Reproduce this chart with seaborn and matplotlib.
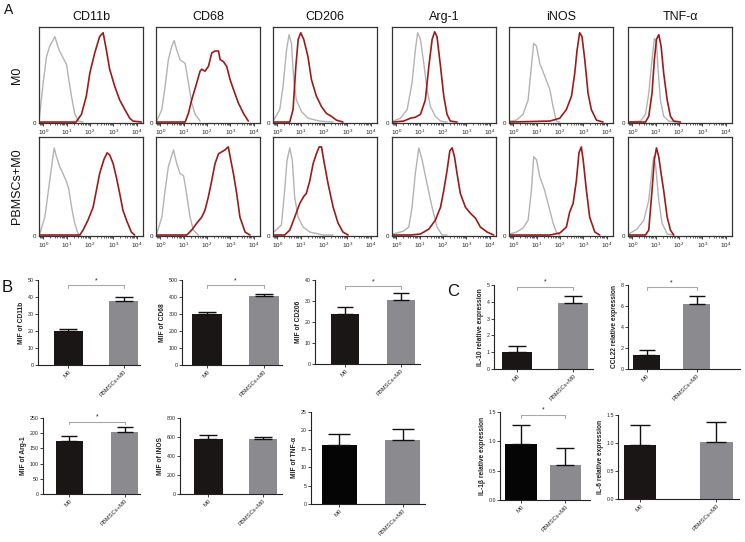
import numpy as np
import pandas as pd
import matplotlib
matplotlib.use("Agg")
import matplotlib.pyplot as plt
import matplotlib.ticker as mticker
import seaborn as sns

# ---------------- data ----------------
markers = ["CD11b", "CD68", "CD206", "Arg-1", "iNOS", "TNF-α"]
conditions = ["M0", "PBMSCs+M0"]

# Flow histograms: x = log10 fluorescence, y = fraction of plot height
cd11b_m0_iso_x = [-0.19, -0.01, 0.13, 0.27, 0.49, 0.67, 0.84, 0.99, 1.09, 1.2, 1.34, 1.49, 1.7]
cd11b_m0_iso_y = [0.02, 0.42, 0.69, 0.80, 0.90, 0.76, 0.68, 0.61, 0.45, 0.28, 0.10, 0.02, 0.01]
cd11b_m0_pos_x = [-0.19, 1.4, 1.63, 1.84, 1.99, 2.2, 2.41, 2.56, 2.7, 2.84, 3.06, 3.27, 3.49, 3.7, 3.84, 4.2]
cd11b_m0_pos_y = [0.01, 0.01, 0.09, 0.28, 0.52, 0.73, 0.90, 0.94, 0.76, 0.56, 0.38, 0.24, 0.14, 0.05, 0.02, 0.01]

cd68_m0_iso_x = [-0.16, 0.06, 0.2, 0.34, 0.49, 0.59, 0.7, 0.84, 1.06, 1.2, 1.34, 1.49, 1.7]
cd68_m0_iso_y = [0.02, 0.14, 0.38, 0.66, 0.80, 0.86, 0.76, 0.66, 0.62, 0.42, 0.21, 0.09, 0.02]
cd68_m0_pos_x = [-0.16, 1.06, 1.2, 1.34, 1.56, 1.7, 1.77, 1.91, 2.06, 2.2, 2.34, 2.49, 2.56, 2.7, 2.84, 2.99, 3.13, 3.34, 3.56, 3.77]
cd68_m0_pos_y = [0.01, 0.01, 0.10, 0.24, 0.42, 0.54, 0.56, 0.54, 0.59, 0.73, 0.75, 0.75, 0.66, 0.64, 0.59, 0.45, 0.35, 0.21, 0.10, 0.02]

cd206_m0_iso_x = [-0.16, 0.1, 0.24, 0.39, 0.5, 0.6, 0.7, 0.81, 1.03, 1.31, 1.81, 2.39]
cd206_m0_iso_y = [0.03, 0.14, 0.38, 0.76, 0.92, 0.83, 0.45, 0.24, 0.12, 0.05, 0.02, 0.01]
cd206_m0_pos_x = [-0.16, 0.53, 0.67, 0.79, 0.89, 1.0, 1.13, 1.31, 1.46, 1.67, 1.89, 2.1, 2.31, 2.53, 2.81]
cd206_m0_pos_y = [0.01, 0.01, 0.14, 0.59, 0.87, 0.94, 0.87, 0.69, 0.45, 0.28, 0.17, 0.10, 0.07, 0.03, 0.01]

arg1_m0_iso_x = [-0.14, 0.17, 0.46, 0.67, 0.81, 0.91, 1.03, 1.17, 1.31, 1.46, 1.67, 1.89, 2.17]
arg1_m0_iso_y = [0.02, 0.05, 0.14, 0.42, 0.76, 0.94, 0.87, 0.63, 0.35, 0.17, 0.07, 0.02, 0.01]
arg1_m0_pos_x = [-0.14, 0.31, 0.6, 0.81, 1.03, 1.24, 1.39, 1.53, 1.64, 1.74, 1.89, 2.03, 2.17, 2.31, 2.6]
arg1_m0_pos_y = [0.01, 0.02, 0.05, 0.06, 0.09, 0.24, 0.59, 0.87, 0.95, 0.90, 0.59, 0.28, 0.09, 0.02, 0.01]

inos_m0_iso_x = [-0.16, 0.13, 0.41, 0.63, 0.77, 0.87, 0.99, 1.13, 1.34, 1.56, 1.7, 1.84, 1.99]
inos_m0_iso_y = [0.02, 0.03, 0.09, 0.24, 0.59, 0.83, 0.80, 0.62, 0.49, 0.35, 0.17, 0.02, 0.01]
inos_m0_pos_x = [-0.16, 1.56, 1.99, 2.27, 2.49, 2.63, 2.73, 2.84, 2.94, 3.06, 3.2, 3.34, 3.56, 3.84]
inos_m0_pos_y = [0.01, 0.02, 0.05, 0.14, 0.28, 0.52, 0.76, 0.94, 0.90, 0.66, 0.31, 0.14, 0.03, 0.01]

tnf_m0_iso_x = [-0.16, 0.34, 0.56, 0.7, 0.84, 0.94, 1.03, 1.09, 1.2, 1.34, 1.56, 1.91]
tnf_m0_iso_y = [0.01, 0.02, 0.09, 0.31, 0.66, 0.88, 0.85, 0.59, 0.24, 0.07, 0.02, 0.01]
tnf_m0_pos_x = [-0.16, 0.56, 0.7, 0.84, 0.94, 1.03, 1.13, 1.23, 1.34, 1.49, 1.63, 1.77, 2.06]
tnf_m0_pos_y = [0.01, 0.01, 0.07, 0.31, 0.66, 0.87, 0.92, 0.80, 0.52, 0.24, 0.07, 0.02, 0.01]

cd11b_pb_iso_x = [-0.16, 0.06, 0.27, 0.46, 0.56, 0.7, 0.84, 0.99, 1.09, 1.2, 1.34, 1.49, 1.63]
cd11b_pb_iso_y = [0.02, 0.19, 0.56, 0.89, 0.80, 0.70, 0.63, 0.55, 0.47, 0.30, 0.13, 0.02, 0.0]
cd11b_pb_pos_x = [-0.16, 1.56, 1.7, 1.91, 2.13, 2.27, 2.41, 2.59, 2.73, 2.84, 2.99, 3.13, 3.27, 3.41, 3.56, 3.77, 3.91]
cd11b_pb_pos_y = [0.01, 0.01, 0.06, 0.16, 0.29, 0.46, 0.63, 0.77, 0.84, 0.82, 0.73, 0.59, 0.43, 0.26, 0.16, 0.04, 0.01]

cd68_pb_iso_x = [-0.16, 0.06, 0.2, 0.34, 0.56, 0.7, 0.84, 0.99, 1.1, 1.27, 1.41, 1.63]
cd68_pb_iso_y = [0.02, 0.19, 0.46, 0.70, 0.87, 0.73, 0.63, 0.61, 0.46, 0.19, 0.06, 0.01]
cd68_pb_pos_x = [-0.16, 1.13, 1.34, 1.56, 1.77, 1.91, 2.06, 2.2, 2.34, 2.49, 2.63, 2.77, 2.91, 2.99, 3.13, 3.27, 3.41, 3.63, 3.84]
cd68_pb_pos_y = [0.01, 0.01, 0.06, 0.13, 0.19, 0.26, 0.40, 0.56, 0.73, 0.83, 0.85, 0.87, 0.90, 0.80, 0.63, 0.43, 0.19, 0.04, 0.01]

cd206_pb_iso_x = [-0.16, 0.17, 0.31, 0.41, 0.53, 0.64, 0.74, 0.89, 1.1, 1.39, 1.96, 2.39]
cd206_pb_iso_y = [0.04, 0.11, 0.46, 0.76, 0.89, 0.76, 0.39, 0.19, 0.09, 0.04, 0.01, 0.01]
cd206_pb_pos_x = [-0.16, 0.31, 0.53, 0.74, 0.96, 1.13, 1.24, 1.39, 1.53, 1.67, 1.79, 1.89, 1.99, 2.17, 2.39, 2.6, 2.81, 3.03]
cd206_pb_pos_y = [0.01, 0.01, 0.06, 0.19, 0.33, 0.40, 0.43, 0.56, 0.73, 0.83, 0.90, 0.90, 0.76, 0.53, 0.29, 0.13, 0.04, 0.01]

arg1_pb_iso_x = [-0.14, 0.31, 0.53, 0.67, 0.81, 0.96, 1.1, 1.31, 1.53, 1.74, 1.96, 2.17]
arg1_pb_iso_y = [0.02, 0.05, 0.09, 0.29, 0.63, 0.89, 0.77, 0.53, 0.29, 0.09, 0.01, 0.01]
arg1_pb_pos_x = [-0.14, 0.6, 1.03, 1.39, 1.67, 1.89, 2.03, 2.17, 2.29, 2.39, 2.49, 2.6, 2.74, 2.96, 3.17, 3.39, 3.6, 3.89, 4.17]
arg1_pb_pos_y = [0.01, 0.01, 0.02, 0.07, 0.16, 0.29, 0.46, 0.66, 0.86, 0.89, 0.80, 0.63, 0.43, 0.29, 0.23, 0.18, 0.09, 0.04, 0.01]

inos_pb_iso_x = [-0.16, 0.13, 0.41, 0.63, 0.77, 0.87, 0.99, 1.13, 1.34, 1.56, 1.7, 1.84, 1.99]
inos_pb_iso_y = [0.02, 0.04, 0.08, 0.16, 0.46, 0.80, 0.77, 0.60, 0.46, 0.26, 0.13, 0.04, 0.01]
inos_pb_pos_x = [-0.16, 1.56, 1.99, 2.27, 2.41, 2.56, 2.7, 2.81, 2.91, 2.99, 3.13, 3.27, 3.49, 3.7]
inos_pb_pos_y = [0.01, 0.01, 0.03, 0.09, 0.24, 0.33, 0.56, 0.84, 0.90, 0.77, 0.46, 0.19, 0.04, 0.01]

tnf_pb_iso_x = [-0.16, 0.2, 0.49, 0.7, 0.84, 0.91, 1.0, 1.13, 1.27, 1.49, 1.77]
tnf_pb_iso_y = [0.02, 0.07, 0.16, 0.36, 0.67, 0.80, 0.70, 0.36, 0.13, 0.02, 0.01]
tnf_pb_pos_x = [-0.16, 0.56, 0.7, 0.84, 0.94, 1.03, 1.13, 1.23, 1.34, 1.49, 1.63, 1.77]
tnf_pb_pos_y = [0.01, 0.01, 0.06, 0.46, 0.77, 0.89, 0.80, 0.63, 0.46, 0.19, 0.06, 0.01]

# Bar charts (mean, SEM, bracket height for significant comparisons)
groups = ["M0", "PBMSCs+M0"]
mif_cd11b = [20.1, 37.6];  mif_cd11b_sem = [1.3, 2.5];  sig_cd11b = 47
mif_cd68 = [300, 403];     mif_cd68_sem = [13, 16];     sig_cd68 = 470
mif_cd206 = [23.9, 30.5];  mif_cd206_sem = [3.3, 3.2];  sig_cd206 = 37
mif_arg1 = [173, 204];     mif_arg1_sem = [18, 17];     sig_arg1 = 238
mif_inos = [583, 583];     mif_inos_sem = [42, 22];     sig_inos = None
mif_tnf = [16.1, 17.5];    mif_tnf_sem = [2.8, 3.0];    sig_tnf = None
il10_expr = [1.03, 3.95];  il10_sem = [0.35, 0.42];     sig_il10 = 4.88
ccl22_expr = [1.36, 6.2];  ccl22_sem = [0.41, 0.8];     sig_ccl22 = 7.8
il1b_expr = [0.95, 0.59];  il1b_sem = [0.33, 0.29];     sig_il1b = 1.45
il6_expr = [0.96, 1.01];   il6_sem = [0.36, 0.37];      sig_il6 = None

# ---------------- style ----------------
sns.set_theme(style="ticks")
plt.rcParams["font.family"] = ["Liberation Sans", "DejaVu Sans"]
plt.rcParams["mathtext.fontset"] = "custom"
plt.rcParams["mathtext.rm"] = "Liberation Sans"

W, H = 745, 542
fig = plt.figure(figsize=(W / 100, H / 100), dpi=100)
fig.patch.set_facecolor("white")


def add_ax(l, t, r, b):
    return fig.add_axes([l / W, 1 - b / H, (r - l) / W, (b - t) / H])


ISO = "#b3b3b3"
POS = "#9b1b1b"

hist = {
    ("CD11b", "M0"): (cd11b_m0_iso_x, cd11b_m0_iso_y, cd11b_m0_pos_x, cd11b_m0_pos_y),
    ("CD68", "M0"): (cd68_m0_iso_x, cd68_m0_iso_y, cd68_m0_pos_x, cd68_m0_pos_y),
    ("CD206", "M0"): (cd206_m0_iso_x, cd206_m0_iso_y, cd206_m0_pos_x, cd206_m0_pos_y),
    ("Arg-1", "M0"): (arg1_m0_iso_x, arg1_m0_iso_y, arg1_m0_pos_x, arg1_m0_pos_y),
    ("iNOS", "M0"): (inos_m0_iso_x, inos_m0_iso_y, inos_m0_pos_x, inos_m0_pos_y),
    ("TNF-α", "M0"): (tnf_m0_iso_x, tnf_m0_iso_y, tnf_m0_pos_x, tnf_m0_pos_y),
    ("CD11b", "PBMSCs+M0"): (cd11b_pb_iso_x, cd11b_pb_iso_y, cd11b_pb_pos_x, cd11b_pb_pos_y),
    ("CD68", "PBMSCs+M0"): (cd68_pb_iso_x, cd68_pb_iso_y, cd68_pb_pos_x, cd68_pb_pos_y),
    ("CD206", "PBMSCs+M0"): (cd206_pb_iso_x, cd206_pb_iso_y, cd206_pb_pos_x, cd206_pb_pos_y),
    ("Arg-1", "PBMSCs+M0"): (arg1_pb_iso_x, arg1_pb_iso_y, arg1_pb_pos_x, arg1_pb_pos_y),
    ("iNOS", "PBMSCs+M0"): (inos_pb_iso_x, inos_pb_iso_y, inos_pb_pos_x, inos_pb_pos_y),
    ("TNF-α", "PBMSCs+M0"): (tnf_pb_iso_x, tnf_pb_iso_y, tnf_pb_pos_x, tnf_pb_pos_y),
}

col_left = [39, 156, 273, 392, 509, 628]
box_w = 104
rows = [(27, 123), (137, 236)]

for ri, cond in enumerate(conditions):
    t, b = rows[ri]
    for ci, mk in enumerate(markers):
        l = col_left[ci]
        ax = add_ax(l, t, l + box_w, b)
        ix, iy, px, py = hist[(mk, cond)]
        sns.lineplot(x=10 ** np.array(ix), y=iy, ax=ax, color=ISO, lw=1.0, estimator=None)
        sns.lineplot(x=10 ** np.array(px), y=py, ax=ax, color=POS, lw=1.2, estimator=None)
        ax.set_xscale("log")
        ax.set_xlim(10 ** -0.19, 10 ** 4.27)
        ax.set_ylim(0, 1.0)
        ax.xaxis.set_major_locator(mticker.FixedLocator([1, 10, 100, 1000, 10000]))
        ax.xaxis.set_major_formatter(mticker.FixedFormatter(
            [r"$10^{0}$", r"$10^{1}$", r"$10^{2}$", r"$10^{3}$", r"$10^{4}$"]))
        ax.xaxis.set_minor_locator(mticker.LogLocator(base=10, subs=np.arange(2, 10)))
        ax.xaxis.set_minor_formatter(mticker.NullFormatter())
        ax.tick_params(axis="x", which="major", direction="out", length=2.5, width=0.6,
                       labelsize=4.5, pad=1, colors="#222")
        ax.tick_params(axis="x", which="minor", direction="out", length=1.4, width=0.5, colors="#222")
        ax.set_yticks([0])
        ax.set_yticklabels(["0"])
        ax.tick_params(axis="y", length=0, labelsize=4.5, pad=2, colors="#222")
        for sp in ax.spines.values():
            sp.set_linewidth(0.9)
            sp.set_color("#333")
            sp.set_visible(True)
        ax.set_xlabel("")
        ax.set_ylabel("")
        if ri == 0:
            ax.set_title(mk, fontsize=9, pad=5, color="#111")

fig.text(17 / W, 1 - 75 / H, "M0", rotation=90, ha="center", va="center", fontsize=9, color="#111")
fig.text(17 / W, 1 - 186 / H, "PBMSCs+M0", rotation=90, ha="center", va="center", fontsize=9, color="#111")
fig.text(4 / W, 1 - 3 / H, "A", ha="left", va="top", fontsize=10, color="#111")
fig.text(2 / W, 1 - 280 / H, "B", ha="left", va="top", fontsize=12, color="#111")
fig.text(447 / W, 1 - 284 / H, "C", ha="left", va="top", fontsize=12, color="#111")

M0_COL = "#1a1615"
PB_COL = "#8b8a8f"


def bar_panel(rect, xlim, width, vals, sems, ylabel, yticks, ylim, sig, m0col=M0_COL, ticklabels=None):
    l, t, r, b = rect
    ax = add_ax(l, t, r, b)
    df = pd.DataFrame({"group": groups, "value": vals})
    sns.barplot(data=df, x="group", y="value", hue="group", palette=[m0col, PB_COL],
                width=width, ax=ax, legend=False, errorbar=None, saturation=1,
                edgecolor="none")
    px_per_unit = (r - l) / (xlim[1] - xlim[0])
    # matplotlib draws caps with markersize = 2 * capsize
    cap = width * px_per_unit * 0.6 / 1.389 / 2
    ax.errorbar([0, 1], vals, yerr=[[0, 0], sems], fmt="none", ecolor="#111",
                elinewidth=1.0, capsize=cap, capthick=1.0, zorder=5)
    ax.set_xlim(*xlim)
    ax.set_ylim(*ylim)
    ax.set_yticks(yticks)
    if ticklabels is not None:
        ax.set_yticklabels(ticklabels)
    sns.despine(ax=ax)
    for sp in ["left", "bottom"]:
        ax.spines[sp].set_linewidth(0.8)
        ax.spines[sp].set_color("#222")
    ax.tick_params(axis="y", direction="out", length=2, width=0.6, labelsize=3.8, pad=1, colors="#222")
    ax.tick_params(axis="x", direction="out", length=2, width=0.6, labelsize=4.2, pad=1, colors="#222")
    ax.set_xticks([0, 1])
    ax.set_xticklabels(groups, rotation=45, ha="right", rotation_mode="anchor")
    ax.set_xlabel("")
    ax.set_ylabel(ylabel, fontsize=4.8, fontweight="bold", labelpad=2, color="#222")
    if sig is not None:
        d = (ylim[1] - ylim[0]) * 0.035
        ax.plot([0, 0, 1, 1], [sig - d, sig, sig, sig - d], color="#a8a8a8", lw=0.8, clip_on=False)
        ax.text(0.5, sig + d * 0.4, "*", ha="center", va="bottom", fontsize=5, color="#222")
    return ax


# Panel B
bar_panel((38, 280, 140, 365), (-0.54, 1.29), 0.52, mif_cd11b, mif_cd11b_sem, "MIF of CD11b",
          [0, 10, 20, 30, 40, 50], (0, 50), sig_cd11b)
bar_panel((182, 280, 282, 365), (-0.44, 1.32), 0.53, mif_cd68, mif_cd68_sem, "MIF of CD68",
          [0, 100, 200, 300, 400, 500], (0, 500), sig_cd68)
bar_panel((315, 280, 420, 364), (-0.54, 1.34), 0.5, mif_cd206, mif_cd206_sem, "MIF of CD206",
          [0, 10, 20, 30, 40], (0, 40), sig_cd206)
bar_panel((43, 418, 140, 494), (-0.48, 1.28), 0.5, mif_arg1, mif_arg1_sem, "MIF of Arg-1",
          [0, 50, 100, 150, 200, 250], (0, 250), sig_arg1)
bar_panel((180, 418, 282, 494), (-0.52, 1.35), 0.52, mif_inos, mif_inos_sem, "MIF of iNOS",
          [0, 200, 400, 600, 800], (0, 800), sig_inos)
bar_panel((311, 412, 425, 504), (-0.44, 1.35), 0.55, mif_tnf, mif_tnf_sem, "MIF of TNF-α",
          [0, 5, 10, 15, 20, 25], (0, 25), sig_tnf, m0col="#050505")

# Panel C
bar_panel((494, 285, 593, 369), (-0.41, 1.35), 0.53, il10_expr, il10_sem, "IL-10 relative expression",
          [0, 1, 2, 3, 4, 5], (0, 5), sig_il10)
bar_panel((628, 285, 740, 369), (-0.37, 1.87), 0.54, ccl22_expr, ccl22_sem, "CCL22 relative expression",
          [0, 2, 4, 6, 8], (0, 8), sig_ccl22)
bar_panel((500, 412, 590, 500), (-0.47, 1.55), 0.7, il1b_expr, il1b_sem, "IL-1β relative expression",
          [0, 0.5, 1.0, 1.5], (0, 1.5), sig_il1b, m0col="#050505",
          ticklabels=["0.0", "0.5", "1.0", "1.5"])
bar_panel((618, 415, 739, 499), (-0.29, 1.3), 0.43, il6_expr, il6_sem, "IL-6 relative expression",
          [0, 0.5, 1.0, 1.5], (0, 1.5), sig_il6,
          ticklabels=["0.0", "0.5", "1.0", "1.5"])

fig.savefig("out.png", dpi=100, facecolor="white")
